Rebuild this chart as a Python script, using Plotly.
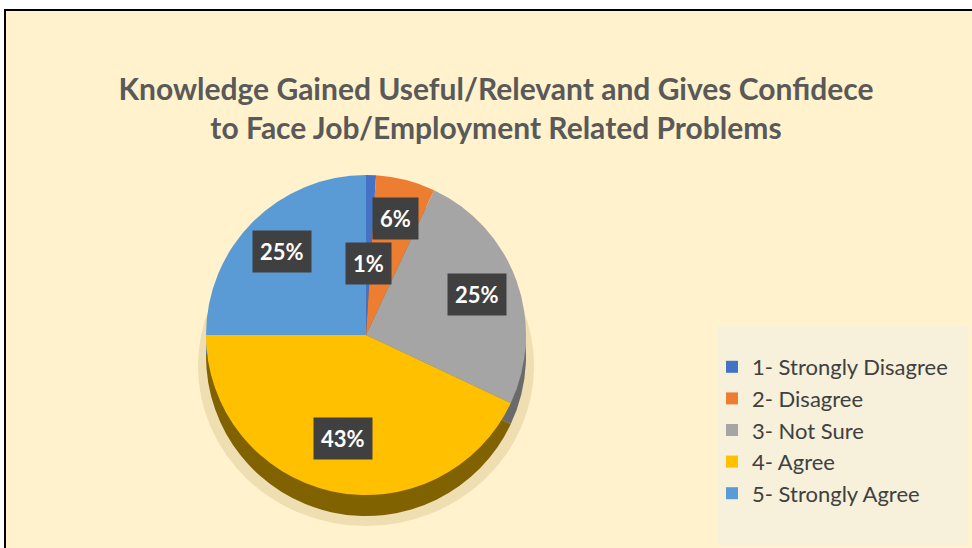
import numpy as np
import plotly.graph_objects as go

# ---- data ----
categories = ["1- Strongly Disagree", "2- Disagree", "3- Not Sure", "4- Agree", "5- Strongly Agree"]
values = [1, 6, 25, 43, 25]
title_lines = ["Knowledge Gained Useful/Relevant and Gives Confidece",
               "to Face Job/Employment Related Problems"]

# ---- style ----
colors = ["#4472C4", "#ED7D31", "#A5A5A5", "#FFC000", "#5B9BD5"]
side_colors = ["#2B4C85", "#9A4F1E", "#6A6A6A", "#806200", "#3A6893"]
label_frac = [0.45, 0.75, 0.74, 0.66, 0.74]

W, H = 972, 548
cx, cy, r = 366, 335, 160
depth = 21


def dom(px, py):
    return dict(x=[(px - r) / W, (px + r) / W], y=[1 - (py + r) / H, 1 - (py - r) / H])


fig = go.Figure()
# side (thickness) of the pie
fig.add_trace(go.Pie(labels=categories, values=values, sort=False, direction="clockwise",
                     rotation=0, marker=dict(colors=side_colors), textinfo="none",
                     hoverinfo="skip", showlegend=False, domain=dom(cx, cy + depth)))
# top surface
fig.add_trace(go.Pie(labels=categories, values=values, sort=False, direction="clockwise",
                     rotation=0, marker=dict(colors=colors), textinfo="none",
                     showlegend=True, domain=dom(cx, cy)))

# data labels computed from the values
total = sum(values)
cum = np.cumsum([0] + values[:-1])
annotations = []
for v, c0, f in zip(values, cum, label_frac):
    mid = (c0 + v / 2) / total * 2 * np.pi
    px = cx + f * r * np.sin(mid)
    py = cy - f * r * np.cos(mid)
    annotations.append(dict(x=px / W, y=1 - py / H, xref="paper", yref="paper",
                            text=f"<b>{round(v / total * 100)}%</b>", showarrow=False,
                            font=dict(family="Lato", size=22, color="white"),
                            bgcolor="#404040", borderpad=7, xanchor="center", yanchor="middle"))

shapes = [
    # chart area frame
    dict(type="rect", xref="paper", yref="paper", x0=5 / W, x1=1.02, y0=-0.02, y1=1 - 10 / H,
         fillcolor="#FFF2CC", line=dict(color="black", width=2), layer="below"),
    # legend panel
    dict(type="rect", xref="paper", yref="paper", x0=717 / W, x1=968 / W, y0=1 - 545 / H, y1=1 - 326 / H,
         fillcolor="#F7F0DA", line=dict(width=0), layer="below"),
    # soft shadow under the pie
    dict(type="circle", xref="paper", yref="paper",
         x0=(cx - r - 8) / W, x1=(cx + r + 8) / W,
         y0=1 - (cy + depth + r + 10) / H, y1=1 - (cy + depth - r + 10) / H,
         fillcolor="rgba(140,110,30,0.15)", line=dict(width=0), layer="below"),
]

fig.update_layout(
    width=W, height=H,
    margin=dict(l=0, r=0, t=0, b=0),
    paper_bgcolor="white",
    plot_bgcolor="rgba(0,0,0,0)",
    title=dict(text="<b>" + "<br>".join(title_lines) + "</b>",
               x=496 / W, xanchor="center", y=1 - 100 / H, yanchor="top",
               font=dict(family="Lato", size=30, color="#595959")),
    legend=dict(x=712 / W, y=1 - 430 / H, xanchor="left", yanchor="middle",
                bgcolor="rgba(0,0,0,0)", font=dict(family="Lato", size=22, color="#404040"),
                itemwidth=30, traceorder="normal"),
    annotations=annotations,
    shapes=shapes,
)

fig.write_html("out.html")
